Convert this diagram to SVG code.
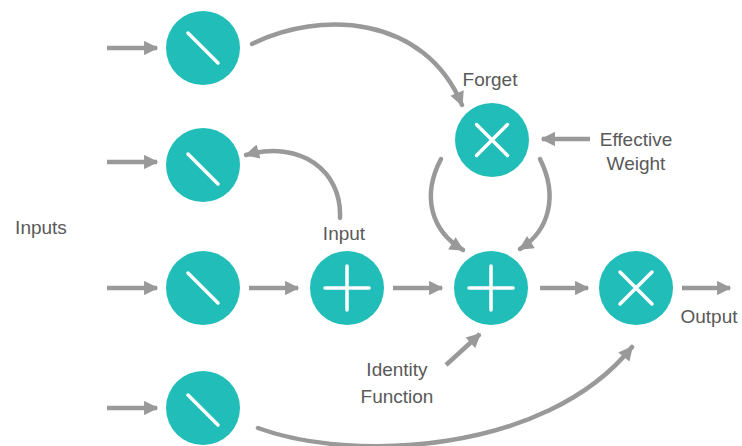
<svg xmlns="http://www.w3.org/2000/svg" width="742" height="446" viewBox="0 0 742 446">
  <defs>
    <marker id="head" viewBox="0 0 10 10" refX="9" refY="5" markerWidth="3.4" markerHeight="3.2" markerUnits="strokeWidth" orient="auto">
      <path d="M0,0 L10,5 L0,10 z" fill="#999"/>
    </marker>
    <style>
      .node { fill: #21bdb8; }
      .glyph { stroke: #fff; stroke-width: 3.5; stroke-linecap: round; fill: none; }
      .edge { stroke: #999; stroke-width: 4.5; fill: none; marker-end: url(#head); }
      .curve { stroke-linecap: round; }
      .label { font-family: "Liberation Sans", Arial, sans-serif; font-size: 19px; fill: #595959; text-anchor: middle; }
    </style>
  </defs>

  <rect width="742" height="446" fill="#fff"/>

  <!-- connectors -->
  <g id="connectors">
    <path class="edge" d="M107,48 H157"/>
    <path class="edge" d="M107,162 H157"/>
    <path class="edge" d="M107,288 H157"/>
    <path class="edge" d="M107,408 H157"/>
    <path class="edge" d="M249,288 H298"/>
    <path class="edge" d="M393,288 H442"/>
    <path class="edge" d="M540,288 H588"/>
    <path class="edge" d="M682,288 H730"/>
    <path class="edge" d="M590,139 H542"/>
    <path class="edge" d="M446,365 L480,334"/>
    <path class="edge curve" d="M252,44 C320,10 425,15 462,105"/>
    <path class="edge curve" d="M340,218 C342,170 300,140 246,155"/>
    <path class="edge curve" d="M441,159 C422,195 430,230 463,250"/>
    <path class="edge curve" d="M540,159 C558,195 550,230 520,249"/>
    <path class="edge curve" d="M258,428 C350,462 545,455 632,347"/>
  </g>

  <!-- input squashing nodes -->
  <g id="in1">
    <circle class="node" cx="203" cy="48" r="37"/>
    <path class="glyph" d="M188,33 L218,63"/>
  </g>
  <g id="in2">
    <circle class="node" cx="203" cy="165" r="37"/>
    <path class="glyph" d="M188,154 L218,184"/>
  </g>
  <g id="in3">
    <circle class="node" cx="203" cy="288" r="37"/>
    <path class="glyph" d="M188,273 L218,303"/>
  </g>
  <g id="in4">
    <circle class="node" cx="203" cy="408" r="37"/>
    <path class="glyph" d="M188,395 L218,425"/>
  </g>

  <!-- operations -->
  <g id="input-sum">
    <circle class="node" cx="347" cy="288" r="37"/>
    <path class="glyph" d="M325,288 H369 M347,266 V310"/>
  </g>
  <g id="forget">
    <circle class="node" cx="492" cy="140" r="37"/>
    <path class="glyph" d="M476.5,124.5 L507.5,155.5 M507.5,124.5 L476.5,155.5"/>
  </g>
  <g id="cell-sum">
    <circle class="node" cx="491" cy="288" r="37"/>
    <path class="glyph" d="M469,288 H513 M491,266 V310"/>
  </g>
  <g id="output-gate">
    <circle class="node" cx="636" cy="288" r="37"/>
    <path class="glyph" d="M620,272 L652,304 M652,272 L620,304"/>
  </g>

  <!-- labels -->
  <g id="labels">
    <text class="label" x="41" y="234">Inputs</text>
    <text class="label" x="344" y="240">Input</text>
    <text class="label" x="490" y="86">Forget</text>
    <text class="label" x="636" y="146">Effective</text>
    <text class="label" x="636" y="170">Weight</text>
    <text class="label" x="397" y="376">Identity</text>
    <text class="label" x="397" y="403">Function</text>
    <text class="label" x="709" y="323">Output</text>
  </g>
</svg>
